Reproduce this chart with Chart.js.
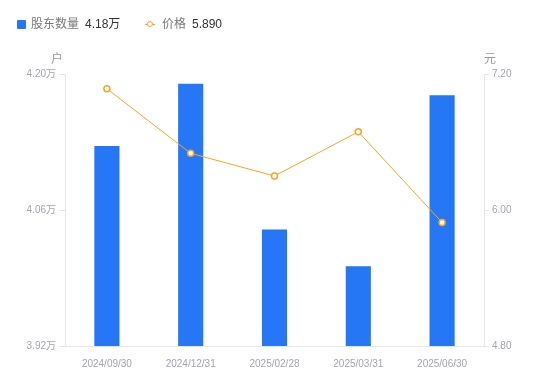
<!DOCTYPE html>
<html>
<head>
<meta charset="utf-8">
<script src="https://cdn.jsdelivr.net/npm/chart.js@4/dist/chart.umd.min.js"></script>
<style>
  html, body { margin: 0; padding: 0; background: #fff; }
  #wrap { position: relative; width: 550px; height: 381px; font-family: "Liberation Sans", "Noto Sans CJK SC", sans-serif; }
  #legend { position: absolute; left: 17px; top: 15px; font-size: 12px; line-height: 18px; white-space: nowrap; }
  .item { position: absolute; top: 0; }
  .name { color: #777; }
  .val { color: #333; margin-left: 6px; }
  .box { position: absolute; left: 0; top: 5px; width: 9px; height: 9px; border-radius: 1px; background: #2577f5; }
  .mark { position: absolute; left: 0; top: 9px; width: 10px; height: 1px; background: #f5a623; }
  .dot { position: absolute; left: 2px; top: 6px; width: 4px; height: 4px; border: 1.5px solid #f5a623; border-radius: 50%; background: #fff; }
</style>
</head>
<body>
<div id="wrap">
  <canvas id="chart"></canvas>
  <div id="legend">
    <div class="item" style="left:0"><span class="box"></span><span style="margin-left:14px" class="name">股东数量</span><span class="val" id="v1"></span></div>
    <div class="item" style="left:128px"><span class="mark"></span><span class="dot"></span><span style="margin-left:17px" class="name">价格</span><span class="val" id="v2"></span></div>
  </div>
</div>
<script>
const categories = ["2024/09/30", "2024/12/31", "2025/02/28", "2025/03/31", "2025/06/30"];
const holders = [4.126, 4.19, 4.04, 4.002, 4.178];   // 万户
const prices = [7.07, 6.50, 6.30, 6.69, 5.89];       // 元
const holderTicks = [3.92, 4.06, 4.20];
const priceTicks = [4.80, 6.00, 7.20];

document.getElementById("v1").textContent = holders[holders.length - 1].toFixed(2) + "万";
document.getElementById("v2").textContent = prices[prices.length - 1].toFixed(3);

Chart.defaults.font.family = '"Liberation Sans", "Noto Sans CJK SC", sans-serif';

const tickColor = "#a3a3b3";
const lineColor = "#e6e6e6";

// 轴顶部的单位
const unitTitles = {
  id: "unitTitles",
  afterDraw(chart) {
    const { ctx, chartArea } = chart;
    ctx.save();
    ctx.font = '12px "Noto Sans CJK SC", sans-serif';
    ctx.fillStyle = "#999";
    ctx.textAlign = "center";
    ctx.textBaseline = "middle";
    ctx.fillText("户", chartArea.left - 8, chartArea.top - 16);
    ctx.fillText("元", chartArea.right + 6, chartArea.top - 16);
    ctx.restore();
  },
};

const ctx = document.getElementById("chart").getContext("2d");

new Chart(ctx, {
  type: "bar",
  data: {
    labels: categories,
    datasets: [
      {
        type: "line",
        label: "价格",
        data: prices,
        yAxisID: "yR",
        borderColor: "#f5a623",
        borderWidth: 1,
        pointRadius: 3,
        pointBorderWidth: 1.5,
        pointBackgroundColor: "#fff",
        pointBorderColor: "#f5a623",
        tension: 0,
        order: 0,
      },
      {
        type: "bar",
        label: "股东数量",
        data: holders,
        yAxisID: "yL",
        backgroundColor: "#2577f5",
        barPercentage: 0.3,
        categoryPercentage: 1,
        order: 1,
      },
    ],
  },
  options: {
    responsive: true,
    maintainAspectRatio: false,
    animation: false,
    layout: { padding: { top: 74, left: 0, right: 0, bottom: 0 } },
    plugins: {
      legend: { display: false },
      tooltip: { enabled: false },
    },
    scales: {
      x: {
        grid: { display: false },
        border: { color: lineColor },
        ticks: { color: tickColor, font: { size: 10 }, padding: 4, maxRotation: 0 },
        afterFit: (s) => { s.height = 35; },
      },
      yL: {
        position: "left",
        min: 3.92,
        max: 4.20,
        afterBuildTicks: (s) => { s.ticks = holderTicks.map((v) => ({ value: v })); },
        grid: { drawOnChartArea: false, tickLength: 6, color: lineColor },
        border: { color: lineColor },
        ticks: {
          color: tickColor,
          font: { size: 10 },
          padding: 3,
          callback: (v) => v.toFixed(2) + "万",
        },
        afterFit: (s) => { s.width = 65; },
      },
      yR: {
        position: "right",
        min: 4.80,
        max: 7.20,
        afterBuildTicks: (s) => { s.ticks = priceTicks.map((v) => ({ value: v })); },
        grid: { drawOnChartArea: false, tickLength: 5, color: lineColor },
        border: { color: lineColor },
        ticks: {
          color: tickColor,
          font: { size: 10 },
          padding: 3,
          callback: (v) => v.toFixed(2),
        },
        afterFit: (s) => { s.width = 66; },
      },
    },
  },
  plugins: [unitTitles],
});
</script>
</body>
</html>
